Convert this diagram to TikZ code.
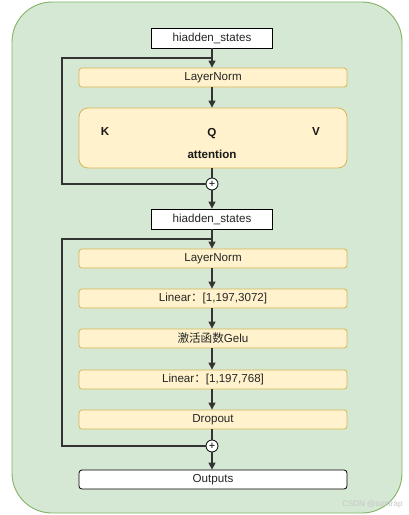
\documentclass[tikz,border=0pt]{standalone}
\usepackage{fontspec}
\setmainfont{Liberation Sans}
\newfontfamily\cjk{Noto Sans CJK SC}
\usetikzlibrary{arrows.meta}
\definecolor{bggreen}{HTML}{D5E8D4}
\definecolor{bgborder}{HTML}{82B366}
\definecolor{yfill}{HTML}{FFF2CC}
\definecolor{yborder}{HTML}{D6B656}
\definecolor{linec}{HTML}{333333}
\tikzset{
  lbl/.style={font=\fontsize{11.6}{13}\selectfont, text=black!85},
  ybox/.style={lbl, draw=yborder, fill=yfill, rounded corners=3pt, minimum width=268pt, minimum height=19pt, inner sep=0pt, line width=0.8pt},
  wbox/.style={lbl, draw=black, fill=white, minimum width=121pt, minimum height=20pt, inner sep=0pt, line width=0.8pt},
  obox/.style={lbl, draw=black, fill=white, rounded corners=3pt, minimum width=268pt, minimum height=19pt, inner sep=0pt, line width=0.8pt},
  attbox/.style={draw=yborder, fill=yfill, rounded corners=9pt, minimum width=268pt, minimum height=60pt, inner sep=0pt, line width=0.8pt},
  plus/.style={draw=black, fill=white, circle, minimum size=12pt, inner sep=0pt, line width=0.8pt, font=\fontsize{11}{11}\selectfont},
  conn/.style={draw=linec, line width=1.1pt},
  arr/.style={conn, -{Triangle[length=7pt,width=7pt]}},
  bold/.style={font=\fontsize{11.6}{13}\selectfont\bfseries, text=black!90},
}
\begin{document}
\begin{tikzpicture}[x=1pt,y=-1pt]
\useasboundingbox (0,0) rectangle (409,515);
\fill[white] (0,0) rectangle (409,515);
\draw[fill=bggreen, draw=bgborder, line width=0.9pt, rounded corners=40pt] (12,2) rectangle (402,513);

% block 1
\node[wbox] (hs1) at (212,38) {hiadden\_states};
\coordinate (j1) at (212,58);
\node[ybox] (ln1) at (213,77.5) {LayerNorm};
\node[attbox] (att) at (213,138) {};
\node[bold] (k) at (105,132) {K};
\node[bold] (q) at (212,134) {Q};
\node[bold] (v) at (316,132) {V};
\node[bold] (attn) at (212,154) {attention};
\node[plus] (p1) at (212,184) {+};
\coordinate (l1a) at (62,58);
\coordinate (l1b) at (62,184);

\draw[arr] (hs1.south) -- (ln1.north -| hs1.south);
\draw[conn] (j1) -- (l1a) -- (l1b) -- (p1.west);
\draw[arr] (ln1.south -| hs1.south) -- (att.north -| hs1.south);
\draw[conn] (att.south -| p1.north) -- (p1.north);

% block 2
\node[wbox] (hs2) at (212,219) {hiadden\_states};
\draw[arr] (p1.south) -- (hs2.north);
\coordinate (j2) at (212,239);
\node[ybox] (ln2) at (213,258.5) {LayerNorm};
\node[ybox] (lin1) at (213,298.5) {Linear{\cjk ：}[1,197,3072]};
\node[ybox] (gelu) at (213,338.5) {{\cjk 激活函数}Gelu};
\node[ybox] (lin2) at (213,379.5) {Linear{\cjk ：}[1,197,768]};
\node[ybox] (drop) at (213,419.5) {Dropout};
\node[plus] (p2) at (212,446) {+};
\node[obox] (out) at (213,479.5) {Outputs};
\coordinate (l2a) at (62,239);
\coordinate (l2b) at (62,446);

\draw[arr] (hs2.south) -- (ln2.north -| hs2.south);
\draw[conn] (j2) -- (l2a) -- (l2b) -- (p2.west);
\draw[arr] (ln2.south -| hs2.south) -- (lin1.north -| hs2.south);
\draw[arr] (lin1.south -| hs2.south) -- (gelu.north -| hs2.south);
\draw[arr] (gelu.south -| hs2.south) -- (lin2.north -| hs2.south);
\draw[arr] (lin2.south -| hs2.south) -- (drop.north -| hs2.south);
\draw[conn] (drop.south -| p2.north) -- (p2.north);
\draw[arr] (p2.south) -- (out.north -| p2.south);

\node[text=black!22, font=\fontsize{8}{9}\selectfont, anchor=east] (wm) at (406,504) {CSDN @tumtrap};
\end{tikzpicture}
\end{document}
